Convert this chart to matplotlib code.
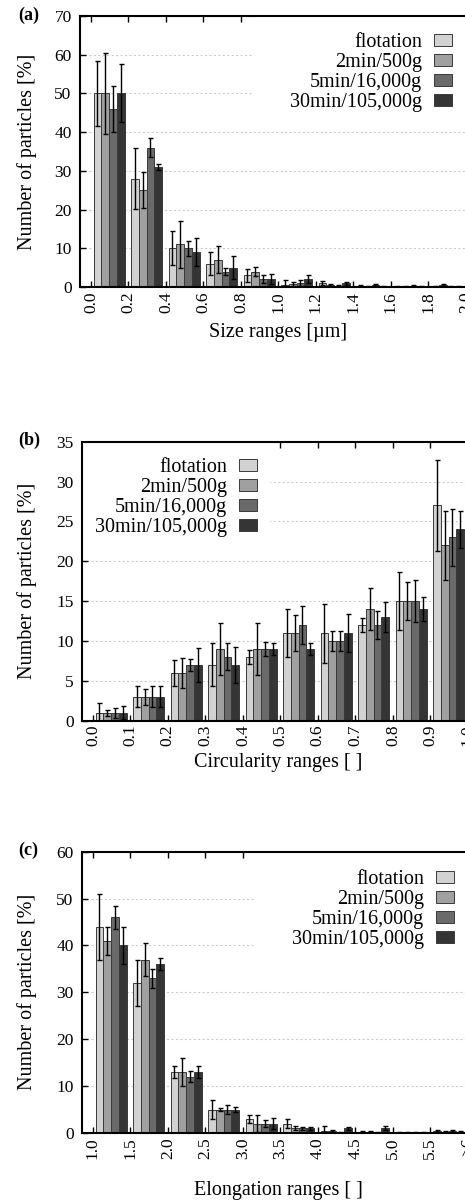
import matplotlib
matplotlib.use('Agg')
import matplotlib.pyplot as plt
from matplotlib.patches import Rectangle, Patch
import numpy as np

plt.rcParams['font.family'] = ['Liberation Serif', 'DejaVu Serif']

# ---------------- data ----------------
series = ['flotation', '2min/500g', '5min/16,000g', '30min/105,000g']
colors = ['#d2d2d2', '#a0a0a0', '#6a6a6a', '#353535']

# (a) size ranges
size_ticks = ['0.0', '0.2', '0.4', '0.6', '0.8', '1.0', '1.2', '1.4', '1.6', '1.8', '2.0']
size_flot = [50, 28, 10, 6, 3, 0.5, 1.0, 0.2, 0.1, 0.1]
size_flot_err = [8.5, 7.8, 4.4, 3, 1.7, 1.3, 0.5, 0.2, 0.1, 0.1]
size_2min = [50, 25, 11, 7, 4, 0.8, 0.5, 0.2, 0.2, 0.5]
size_2min_err = [10.5, 4.7, 6, 3.5, 1.2, 0.5, 0.2, 0.1, 0.1, 0.3]
size_5min = [46, 36, 10, 4, 2, 1, 0.3, 0.5, 0.3, 0.2]
size_5min_err = [6, 2.4, 2, 0.9, 1, 0.8, 0.2, 0.3, 0.2, 0.1]
size_30min = [50, 31, 9, 5, 2, 2, 1, 0.2, 0.1, 0.1]
size_30min_err = [7.5, 0.9, 3.7, 3, 1.3, 1, 0.4, 0.1, 0.1, 0.1]

# (b) circularity ranges
circ_ticks = ['0.0', '0.1', '0.2', '0.3', '0.4', '0.5', '0.6', '0.7', '0.8', '0.9', '1.0']
circ_flot = [1, 3, 6, 7, 8, 11, 11, 12, 15, 27]
circ_flot_err = [1.2, 1.3, 1.6, 2.7, 0.9, 3, 3.7, 0.9, 3.6, 5.7]
circ_2min = [1, 3, 6, 9, 9, 11, 10, 14, 15, 22]
circ_2min_err = [0.4, 1, 1.9, 3.3, 3.3, 2.2, 1.3, 2.6, 2.4, 4.3]
circ_5min = [1, 3, 7, 8, 9, 12, 10, 12, 15, 23]
circ_5min_err = [0.6, 1.3, 0.8, 1.7, 0.9, 2.4, 1.2, 1.8, 2.6, 3.6]
circ_30min = [1, 3, 7, 7, 9, 9, 11, 13, 14, 24]
circ_30min_err = [0.8, 1.3, 2.1, 2.3, 0.7, 0.8, 2.4, 1.9, 1.5, 2.3]

# (c) elongation ranges
elong_ticks = ['1.0', '1.5', '2.0', '2.5', '3.0', '3.5', '4.0', '4.5', '5.0', '5.5', '>6']
elong_flot = [44, 32, 13, 5, 3, 2, 0.5, 0.3, 0.2, 0.4]
elong_flot_err = [7, 5, 1.2, 2, 0.8, 1, 1, 0.2, 0.1, 0.2]
elong_2min = [41, 37, 13, 5, 2, 1, 0.4, 0.3, 0.1, 0.3]
elong_2min_err = [3, 3.5, 3, 0.3, 1.8, 0.4, 0.2, 0.1, 0.1, 0.1]
elong_5min = [46, 33, 12, 5, 2, 1, 0.2, 0.2, 0.1, 0.5]
elong_5min_err = [2.5, 2, 1.2, 1, 0.7, 0.3, 0.1, 0.1, 0.1, 0.2]
elong_30min = [40, 36, 13, 5, 2, 1, 1, 1, 0.1, 0.3]
elong_30min_err = [4, 1.3, 1.3, 0.6, 1.1, 0.3, 0.3, 0.4, 0.1, 0.1]

# ---------------- figure ----------------
W, H = 465, 1201
fig = plt.figure(figsize=(W / 100, H / 100), dpi=100)

XL, XR = -0.29, 10.3
PX_PER_UNIT = 37.5
AX_W_PX = (XR - XL) * PX_PER_UNIT

panels = [
    dict(letter='(a)', left=80, top=16, bottom=287, ymax=70, ystep=10,
         ticks=size_ticks, vals=[size_flot, size_2min, size_5min, size_30min],
         errs=[size_flot_err, size_2min_err, size_5min_err, size_30min_err],
         xlabel='Size ranges [\u00b5m]', xlab_y=332,
         box=(253, 477, 16, 112), leg_anchor=(452, 33)),
    dict(letter='(b)', left=82, top=441.7, bottom=720.7, ymax=35, ystep=5,
         ticks=circ_ticks, vals=[circ_flot, circ_2min, circ_5min, circ_30min],
         errs=[circ_flot_err, circ_2min_err, circ_5min_err, circ_30min_err],
         xlabel='Circularity ranges [ ]', xlab_y=763,
         box=(82, 270, 441.7, 540), leg_anchor=(257, 458)),
    dict(letter='(c)', left=82, top=851.7, bottom=1133, ymax=60, ystep=10,
         ticks=elong_ticks, vals=[elong_flot, elong_2min, elong_5min, elong_30min],
         errs=[elong_flot_err, elong_2min_err, elong_5min_err, elong_30min_err],
         xlabel='Elongation ranges [ ]', xlab_y=1190,
         box=(255, 479, 851.7, 955), leg_anchor=(454, 870)),
]

bar_w = 0.207
offset = 0.07

for p in panels:
    h_px = p['bottom'] - p['top']
    ax = fig.add_axes([p['left'] / W, 1 - p['bottom'] / H, AX_W_PX / W, h_px / H])
    ax.set_xlim(XL, XR)
    ax.set_ylim(0, p['ymax'])
    ax.set_axisbelow(True)

    ngroups = len(p['vals'][0])
    g = np.arange(ngroups)
    for i, (v, e) in enumerate(zip(p['vals'], p['errs'])):
        xc = g + offset + bar_w * (i + 0.5)
        ax.bar(xc, v, width=bar_w, color=colors[i], edgecolor='#3a3a3a',
               linewidth=0.7, zorder=2)
        ax.errorbar(xc, v, yerr=e, fmt='none', ecolor='black', elinewidth=1.0,
                    capsize=1.8, capthick=1.0, zorder=3)

    # ticks
    ax.set_xticks(np.arange(len(p['ticks'])))
    ax.set_xticklabels(p['ticks'], rotation=90, fontsize=12.5)
    ax.set_yticks(np.arange(0, p['ymax'] + 0.1, p['ystep']))
    ax.tick_params(axis='y', labelsize=12.5, direction='in', length=4, width=1,
                   left=True, right=False, pad=6)
    ax.tick_params(axis='x', direction='in', length=4, width=1, top=True,
                   bottom=True, pad=3)
    for s in ['left', 'bottom', 'top']:
        ax.spines[s].set_linewidth(1.5)
    ax.spines['right'].set_visible(False)

    ax.yaxis.grid(True, linestyle=(0, (2, 2)), color='#cdcdcd', linewidth=0.8)

    # opaque key area (hides grid behind the legend)
    bx0, bx1, by0, by1 = p['box']
    ax_l, ax_b = p['left'], p['bottom']
    rect = Rectangle(((bx0 - ax_l) / AX_W_PX, (ax_b - by1) / h_px),
                     (bx1 - bx0) / AX_W_PX, (by1 - by0) / h_px,
                     transform=ax.transAxes, facecolor='white', edgecolor='none',
                     zorder=1, clip_on=False)
    ax.add_patch(rect)

    handles = [Patch(facecolor=c, edgecolor='#3a3a3a', linewidth=0.7) for c in colors]
    lx, ly = p['leg_anchor']
    ax.legend(handles, series, loc='upper right',
              bbox_to_anchor=((lx - ax_l) / AX_W_PX, (ax_b - ly) / h_px),
              frameon=False, markerfirst=False, fontsize=14.5,
              handlelength=0.9, handleheight=0.6, handletextpad=0.6,
              labelspacing=0.05, borderpad=0, borderaxespad=0)

    ax.set_ylabel('Number of particles [%]', fontsize=14.5)
    ax.yaxis.set_label_coords(-(p['left'] - 27) / AX_W_PX, 0.5)
    ax.yaxis.label.set_va('center')
    ax.set_xlabel(p['xlabel'], fontsize=14.5)
    ax.xaxis.set_label_coords((278 - ax_l) / AX_W_PX, (ax_b - p['xlab_y']) / h_px)
    ax.xaxis.label.set_va('center')

    fig.text(18 / W, 1 - (p['top'] - 1) / H, p['letter'], fontsize=13,
             fontweight='bold', ha='left', va='center')

fig.savefig('out.png', dpi=100)
